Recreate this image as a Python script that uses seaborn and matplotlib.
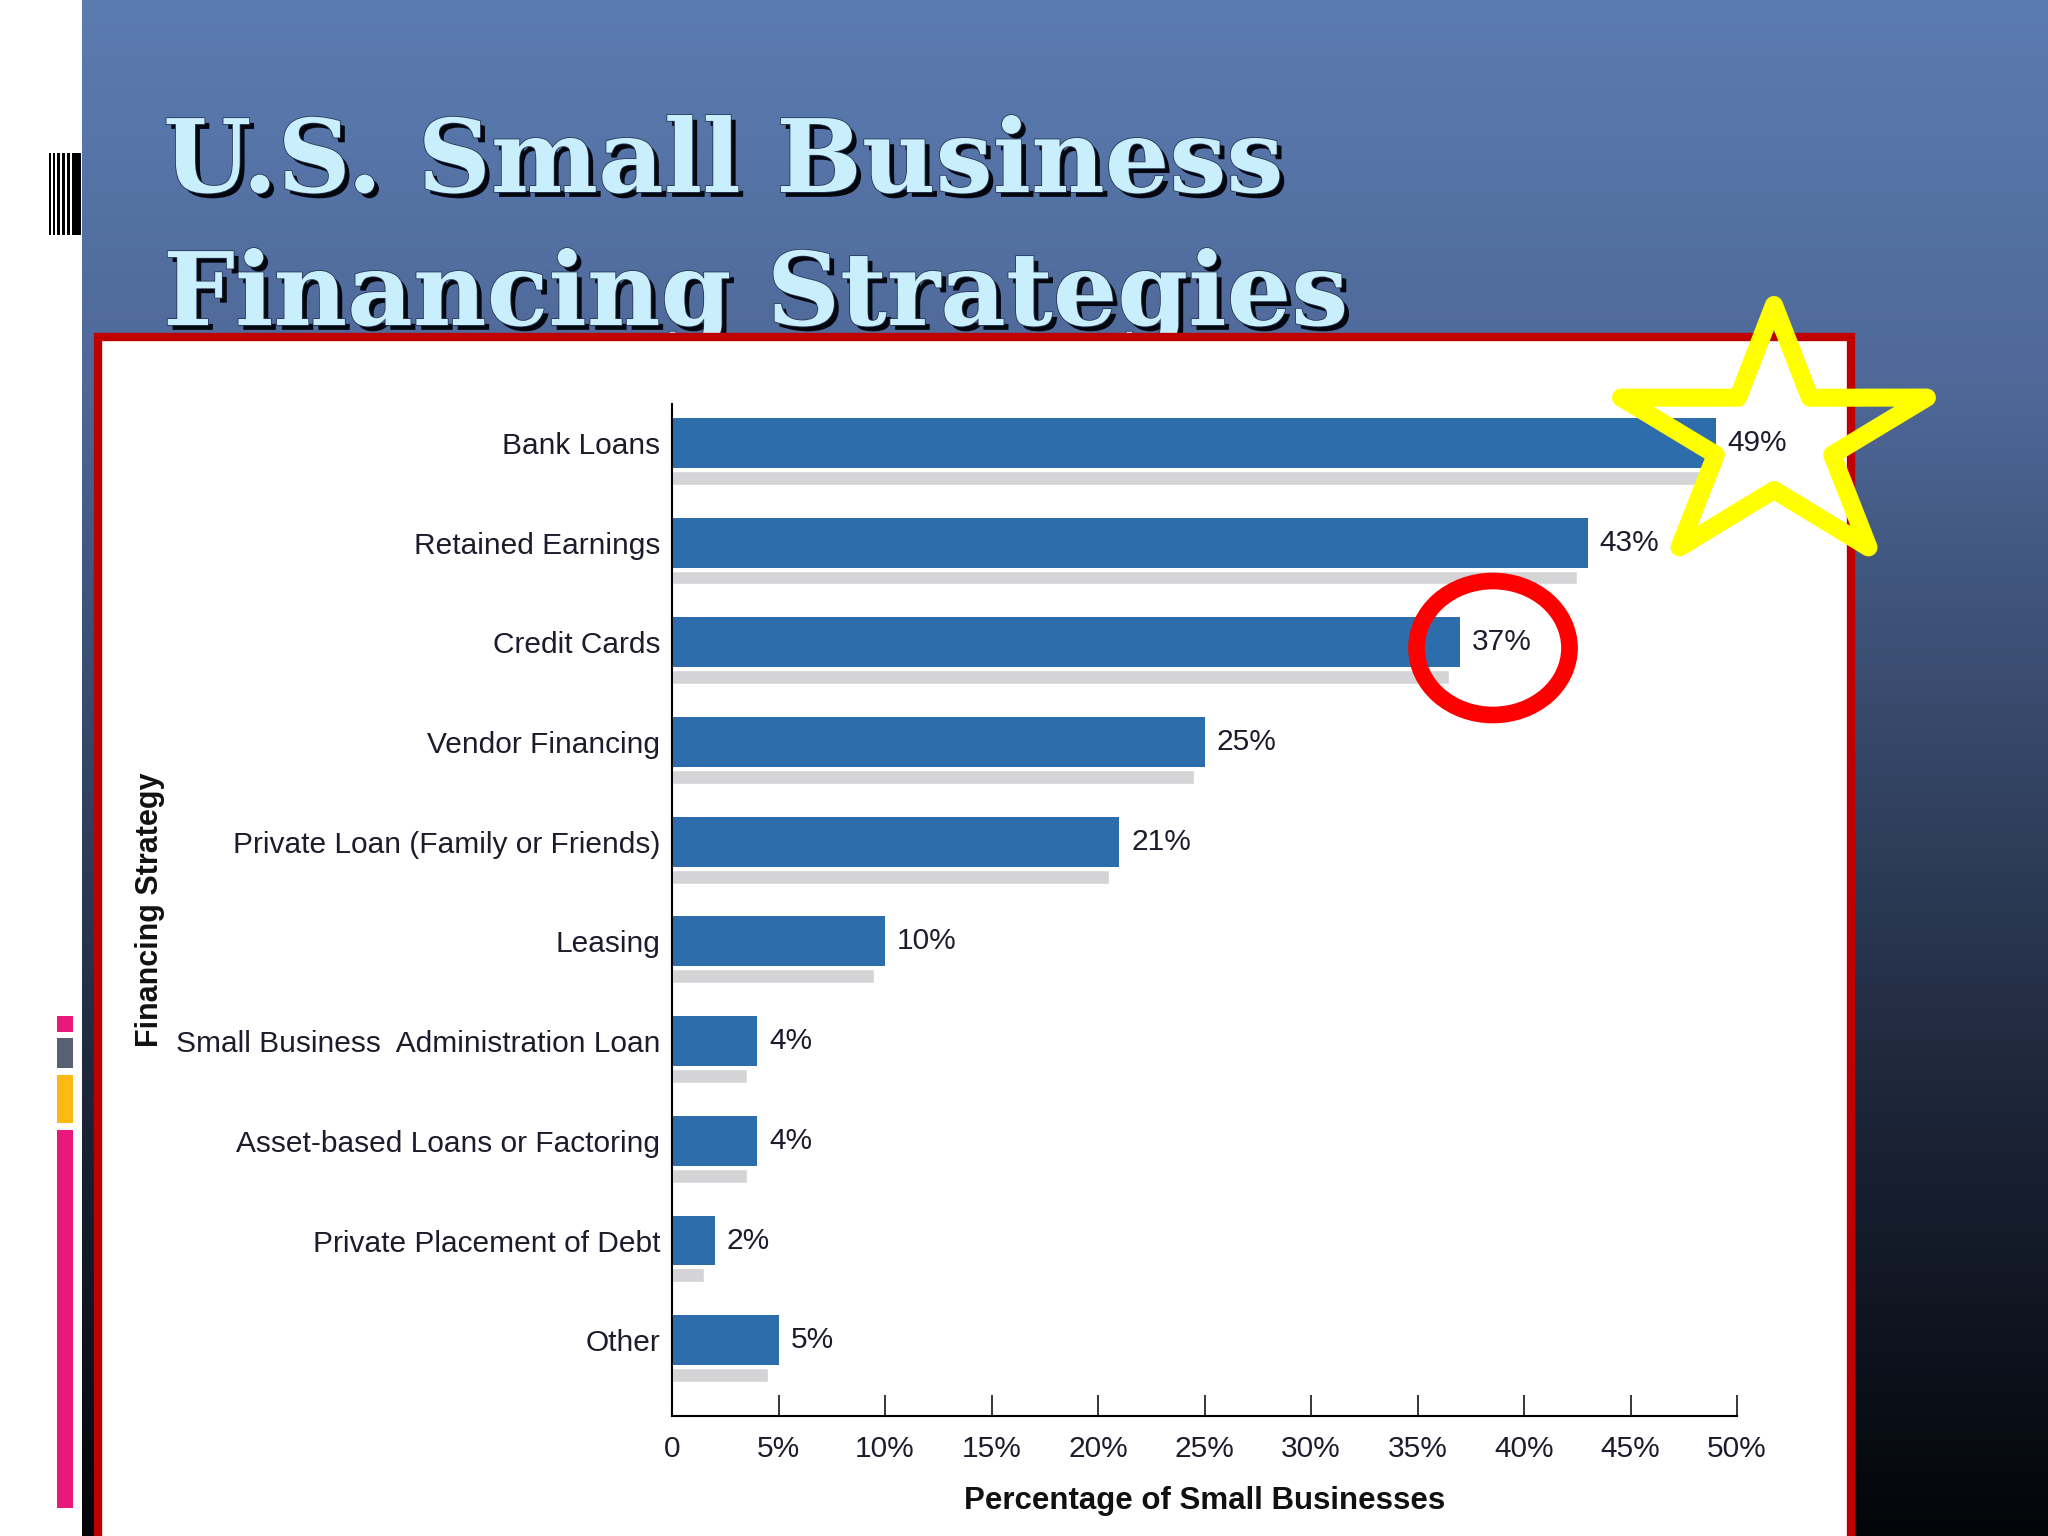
import numpy as np
import matplotlib
matplotlib.use("Agg")
import matplotlib.pyplot as plt
import matplotlib.patheffects as pe
from matplotlib.colors import LinearSegmentedColormap
from matplotlib.patches import Rectangle, Ellipse, Polygon
import seaborn as sns

# data
categories = ["Bank Loans", "Retained Earnings", "Credit Cards", "Vendor Financing",
              "Private Loan (Family or Friends)", "Leasing",
              "Small Business  Administration Loan", "Asset-based Loans or Factoring",
              "Private Placement of Debt", "Other"]
values = [49, 43, 37, 25, 21, 10, 4, 4, 2, 5]
tick_values = [0, 5, 10, 15, 20, 25, 30, 35, 40, 45, 50]
tick_labels = ["0", "5%", "10%", "15%", "20%", "25%", "30%", "35%", "40%", "45%", "50%"]
title_lines = ["U.S. Small Business", "Financing Strategies"]

sns.set_style("white")
plt.rcParams['font.family'] = ['Liberation Sans', 'DejaVu Sans']
lab_size = 21.5
lab_color = '#1c1c2c'

W, H = 2048, 1536
fig = plt.figure(figsize=(W / 100, H / 100), dpi=100, facecolor='white')

# slide background (pixel coordinates)
bg = fig.add_axes([0, 0, 1, 1], zorder=0)
bg.set_xlim(0, W)
bg.set_ylim(H, 0)
bg.axis('off')
cmap = LinearSegmentedColormap.from_list(
    'slide', [(0, '#5b7cb1'), (0.25, '#4e6898'), (0.5, '#344464'),
              (0.75, '#192132'), (1, '#030509')])
grad = np.linspace(0, 1, 256).reshape(-1, 1)
bg.imshow(grad, cmap=cmap, extent=[82, W, H, 0], aspect='auto', zorder=0)

# little barcode mark and coloured strip on the left
for x0, w in [(49, 2), (53, 2), (57, 3), (62, 3), (67, 3), (72, 9)]:
    bg.add_patch(Rectangle((x0, 153), w, 82, color='black', lw=0, zorder=1))
for y0, y1, c in [(1016, 1032, '#e8197a'), (1038, 1068, '#586073'),
                  (1075, 1123, '#fdb813'), (1130, 1508, '#e8197a')]:
    bg.add_patch(Rectangle((57, y0), 16, y1 - y0, color=c, lw=0, zorder=1))

# title
title_fx = [pe.SimplePatchShadow(offset=(3.5, -3.5), shadow_rgbFace='#05070f', alpha=1.0),
            pe.Stroke(linewidth=1.2, foreground='#2a3858'), pe.Normal()]
for txt, yb in zip(title_lines, [192, 325]):
    bg.text(163, yb, txt, family='DejaVu Serif', weight='bold', fontsize=73,
            color='#c9eefc', va='baseline', ha='left', zorder=2, path_effects=title_fx)

# white panel with red frame
bg.add_patch(Rectangle((97.5, 337), 1753.5, 1300, facecolor='white',
                       edgecolor='#c00000', lw=6, zorder=3))

# chart
ax = fig.add_axes([672 / W, 1 - 1416 / H, 1065 / W, 1012 / H], zorder=1)
ax.patch.set_alpha(0)
sns.barplot(x=values, y=categories, orient='h', color='#2e6dac', saturation=1,
            width=0.5, linewidth=0, ax=ax)
pos = np.arange(len(categories))
ax.barh(pos + 0.35, np.array(values) - 0.5, height=0.14, color='#d4d4d6', zorder=0.9)
ax.bar_label(ax.containers[0], labels=[f"{v}%" for v in values], padding=8.6,
             fontsize=lab_size, color=lab_color)

ax.set_xlim(0, 50)
ax.set_ylim(9.76, -0.39)
ax.set_xticks(tick_values)
ax.set_xticklabels(tick_labels)
ax.tick_params(axis='x', direction='in', length=15, width=1.1, pad=14,
               labelsize=lab_size, labelcolor=lab_color, color='black', bottom=True)
ax.tick_params(axis='y', length=0, pad=8.6, labelsize=lab_size, labelcolor=lab_color)
for s in ['top', 'right']:
    ax.spines[s].set_visible(False)
for s in ['left', 'bottom']:
    ax.spines[s].set_linewidth(1.5)
    ax.spines[s].set_color('black')
ax.grid(False)

ax.set_xlabel("Percentage of Small Businesses", fontsize=22.5, weight='bold',
              color='#111111', labelpad=16)
ax.set_ylabel("Financing Strategy", weight='bold', fontsize=22, color='#111111')
ax.yaxis.set_label_coords(-0.476, 0.5)

# highlights drawn over everything
ov = fig.add_axes([0, 0, 1, 1], zorder=5)
ov.set_xlim(0, W)
ov.set_ylim(H, 0)
ov.axis('off')
ov.patch.set_alpha(0)

cx, cy, R, r, sx = 1774, 439, 134, 51, 1.2
ang = np.deg2rad(90 + np.arange(10) * 36)
rad = np.where(np.arange(10) % 2 == 0, R, r)
star = np.column_stack([cx + sx * rad * np.cos(ang), cy - rad * np.sin(ang)])
ov.add_patch(Polygon(star, closed=True, fill=False, edgecolor='#ffff00',
                     lw=13, joinstyle='round'))
ov.add_patch(Ellipse((1493, 648), 153, 134, fill=False, edgecolor='#ff0000', lw=12))

fig.savefig('out.png', dpi=100)
